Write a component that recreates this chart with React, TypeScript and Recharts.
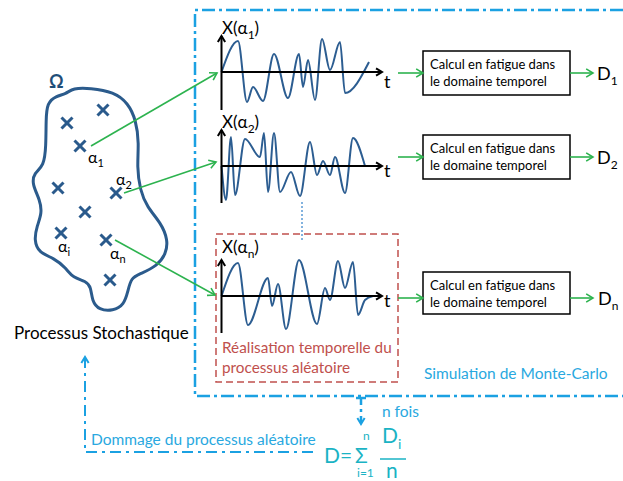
import React from 'react';
import { ComposedChart, Line, Scatter, XAxis, YAxis, ReferenceArea } from 'recharts';

type Pt = { x: number; y: number };
type Txt = Pt & { t: string; sub?: string; tail?: string };

// Ω domain outline (closed)
const omegaOutline: Pt[] = [
  { x: 73, y: 88 }, { x: 90, y: 88 }, { x: 114, y: 92 }, { x: 128, y: 103 },
  { x: 136, y: 120 }, { x: 139, y: 143 }, { x: 137, y: 167 }, { x: 140, y: 190 },
  { x: 147, y: 207 }, { x: 161, y: 223 }, { x: 168, y: 240 }, { x: 166, y: 254 },
  { x: 157, y: 266 }, { x: 140, y: 274 }, { x: 131, y: 278 }, { x: 128, y: 291 },
  { x: 124, y: 305 }, { x: 113, y: 311 }, { x: 99, y: 310 }, { x: 92, y: 301 },
  { x: 91, y: 287 }, { x: 86, y: 281 }, { x: 73, y: 278 }, { x: 66, y: 268 },
  { x: 54, y: 258 }, { x: 39, y: 253 }, { x: 34, y: 240 }, { x: 37, y: 226 },
  { x: 42, y: 213 }, { x: 40, y: 200 }, { x: 32, y: 184 }, { x: 34, y: 173 },
  { x: 44, y: 166 }, { x: 46, y: 146 }, { x: 46, y: 120 }, { x: 47, y: 103 },
  { x: 56, y: 96 }, { x: 66, y: 94 },
];

// random samples α inside Ω
const samples: Pt[] = [
  { x: 103, y: 110 }, { x: 67, y: 123 }, { x: 80, y: 146 }, { x: 58, y: 188 },
  { x: 116, y: 193 }, { x: 85, y: 212 }, { x: 61, y: 233 }, { x: 106, y: 240 },
  { x: 110, y: 280 },
];

const alphaLabels: Txt[] = [
  { x: 88, y: 163, t: 'α', sub: '1' },
  { x: 116, y: 185, t: 'α', sub: '2' },
  { x: 58, y: 252, t: 'α', sub: 'i' },
  { x: 110, y: 259, t: 'α', sub: 'n' },
];

// time realisations X(α)
const wave1: Pt[] = [
  { x: 221.5, y: 72 }, { x: 238, y: 41 }, { x: 247, y: 102 }, { x: 253, y: 87 },
  { x: 263, y: 101 }, { x: 274, y: 54 }, { x: 288, y: 98 }, { x: 299, y: 54 },
  { x: 303, y: 87 }, { x: 308, y: 60 }, { x: 315, y: 100 }, { x: 322, y: 39 },
  { x: 330, y: 70 }, { x: 340, y: 42 }, { x: 345, y: 93 }, { x: 369, y: 62 },
];
const wave2: Pt[] = [
  { x: 221.5, y: 166 }, { x: 226, y: 200 }, { x: 231, y: 137 }, { x: 235, y: 195 },
  { x: 245, y: 139 }, { x: 260, y: 157 }, { x: 264, y: 133 }, { x: 268, y: 192 },
  { x: 274, y: 133 }, { x: 280, y: 192 }, { x: 291, y: 172 }, { x: 300, y: 196 },
  { x: 310, y: 142 }, { x: 317, y: 175 }, { x: 323, y: 161 }, { x: 330, y: 175 },
  { x: 335, y: 157 }, { x: 345, y: 193 }, { x: 353, y: 138 }, { x: 365, y: 166 },
];
const waveN: Pt[] = [
  { x: 221.5, y: 296 }, { x: 238, y: 263 }, { x: 248, y: 325 }, { x: 268, y: 278 },
  { x: 272, y: 306 }, { x: 278, y: 284 }, { x: 286, y: 329 }, { x: 299, y: 260 },
  { x: 317, y: 324 }, { x: 325, y: 288 }, { x: 330, y: 300 }, { x: 338, y: 261 },
  { x: 345, y: 288 }, { x: 353, y: 262 }, { x: 358, y: 315 }, { x: 365, y: 300 },
  { x: 373, y: 296 },
];

// small time axes for each realisation
const axisLines: Pt[][] = [
  [{ x: 221.5, y: 110 }, { x: 221.5, y: 36 }],
  [{ x: 221.5, y: 72 }, { x: 382, y: 72 }],
  [{ x: 221.5, y: 203 }, { x: 221.5, y: 130 }],
  [{ x: 221.5, y: 166 }, { x: 382, y: 166 }],
  [{ x: 221.5, y: 333 }, { x: 221.5, y: 260 }],
  [{ x: 221.5, y: 296 }, { x: 382, y: 296 }],
];

const plotLabels: Txt[] = [
  { x: 222, y: 34, t: 'X(α', sub: '1', tail: ')' },
  { x: 222, y: 128, t: 'X(α', sub: '2', tail: ')' },
  { x: 222, y: 253, t: 'X(α', sub: 'n', tail: ')' },
];
const timeLabels: Txt[] = [
  { x: 384, y: 88, t: 't' }, { x: 384, y: 177, t: 't' }, { x: 384, y: 307, t: 't' },
];

// green arrows: samples -> realisations, realisations -> fatigue -> D
const greenLines: Pt[][] = [
  [{ x: 91, y: 146 }, { x: 217, y: 73 }],
  [{ x: 124, y: 193 }, { x: 216, y: 162 }],
  [{ x: 115, y: 240 }, { x: 215, y: 295 }],
  [{ x: 398, y: 73 }, { x: 423, y: 73 }],
  [{ x: 398, y: 157 }, { x: 423, y: 157 }],
  [{ x: 398, y: 298 }, { x: 423, y: 298 }],
  [{ x: 570, y: 73 }, { x: 593, y: 73 }],
  [{ x: 570, y: 157 }, { x: 593, y: 157 }],
  [{ x: 570, y: 298 }, { x: 593, y: 298 }],
];

// fatigue boxes (top, bottom)
const boxTops = [51, 135, 272];
const boxBottoms = [95, 179, 314];
const boxLeft = 423;
const boxRight = 570;
const boxLines = ['Calcul en fatigue dans', 'le domaine temporel'];
const boxTexts: Txt[] = boxTops.flatMap((top) => [
  { x: 430, y: top + 18, t: boxLines[0] },
  { x: 430, y: top + 35, t: boxLines[1] },
]);
const damageLabels: Txt[] = [
  { x: 597, y: 80, t: 'D', sub: '1' },
  { x: 597, y: 164, t: 'D', sub: '2' },
  { x: 598, y: 305, t: 'D', sub: 'n' },
];

// Monte-Carlo frame + loops
const mcFrame: Pt[] = [
  { x: 623, y: 10 }, { x: 195, y: 10 }, { x: 195, y: 396 }, { x: 623, y: 396 },
];
const nTimesLine: Pt[] = [{ x: 361, y: 398 }, { x: 361, y: 424 }];
const nTimesBar: Pt[] = [{ x: 356, y: 398 }, { x: 366, y: 398 }];
const feedbackLine: Pt[] = [{ x: 313, y: 452 }, { x: 85, y: 452 }, { x: 85, y: 357 }];
const separatorDots: Pt[] = [{ x: 302, y: 202 }, { x: 302, y: 242 }];
const fractionBar: Pt[] = [{ x: 380, y: 459 }, { x: 406, y: 459 }];

const redBox = { x1: 216, x2: 398, y1: 234, y2: 382 };
const redTexts: Txt[] = [
  { x: 222, y: 353, t: 'Réalisation temporelle du' },
  { x: 222, y: 373, t: 'processus aléatoire' },
];
const blackTexts: Txt[] = [{ x: 14, y: 339, t: 'Processus Stochastique' }];
const omegaLabel: Txt[] = [{ x: 49, y: 88, t: 'Ω' }];
const cyanTexts: Txt[] = [
  { x: 424, y: 379, t: 'Simulation  de Monte-Carlo' },
  { x: 382, y: 417, t: 'n fois' },
  { x: 91, y: 445, t: 'Dommage du processus aléatoire' },
];
const formulaBig: Txt[] = [
  { x: 324, y: 463, t: 'D=' },
  { x: 355, y: 463, t: 'Σ' },
  { x: 382, y: 443, t: 'D', sub: 'i' },
  { x: 386, y: 478, t: 'n' },
];
const formulaSmall: Txt[] = [
  { x: 363, y: 440, t: 'n' },
  { x: 357, y: 477, t: 'i=1' },
];

const FONT = 'Lato, "Open Sans", sans-serif';
const CYAN = '#1ba1e2';
const GREEN = '#2db34f';
const WAVE = '#2c5d91';
const RED = '#c0504d';
const TEAL = '#1ab3c4';

const tip = (line: Pt[]) => {
  const a = line[line.length - 2];
  const b = line[line.length - 1];
  return { x: b.x, y: b.y, ang: Math.atan2(b.y - a.y, b.x - a.x) };
};

const chevron = (color: string, len: number, sw: number) => (p: any) => {
  const { cx, cy, payload } = p;
  const a = payload.ang;
  const end = (d: number) => `${cx - len * Math.cos(a + d)},${cy - len * Math.sin(a + d)}`;
  return (
    <polyline points={`${end(0.55)} ${cx},${cy} ${end(-0.55)}`} fill="none" stroke={color} strokeWidth={sw} />
  );
};

const cross = (p: any) => {
  const { cx, cy } = p;
  const s = 5.5;
  return (
    <g stroke="#2a5a8c" strokeWidth={3}>
      <line x1={cx - s} y1={cy - s} x2={cx + s} y2={cy + s} />
      <line x1={cx - s} y1={cy + s} x2={cx + s} y2={cy - s} />
    </g>
  );
};

const label = (size: number, color: string, weight = 400) => (p: any) => {
  const d = p.payload as Txt;
  const subSize = Math.round(size * 0.68);
  return (
    <text x={p.cx} y={p.cy} fontSize={size} fill={color} fontWeight={weight} fontFamily={FONT}>
      {d.t}
      {d.sub && <tspan dy={size * 0.28} fontSize={subSize}>{d.sub}</tspan>}
      {d.tail && <tspan dy={-size * 0.28}>{d.tail}</tspan>}
    </text>
  );
};

const seg = (data: Pt[], key: string, color: string, sw: number, dash?: string, type: any = 'linear') => (
  <Line
    key={key}
    data={data}
    dataKey="y"
    type={type}
    stroke={color}
    strokeWidth={sw}
    strokeDasharray={dash}
    dot={false}
    activeDot={false}
    isAnimationActive={false}
  />
);

export default function App() {
  return (
    <div style={{ position: 'absolute', left: 0, top: 0, background: '#fff' }}>
      <ComposedChart width={623} height={481} margin={{ top: 0, right: 0, bottom: 0, left: 0 }}>
        <XAxis type="number" dataKey="x" domain={[0, 623]} allowDataOverflow hide />
        <YAxis type="number" dataKey="y" domain={[0, 481]} reversed allowDataOverflow hide />

        {seg(mcFrame, 'frame', CYAN, 2.5, '13 4 3 4')}
        {seg(nTimesLine, 'ntimes', CYAN, 2.5, '7 4 3 4')}
        {seg(nTimesBar, 'nbar', CYAN, 2.5)}
        {seg(feedbackLine, 'feedback', CYAN, 2, '11 5 3 5')}
        {seg(separatorDots, 'sep', '#5b9bd5', 1.5, '2 2')}

        <ReferenceArea {...redBox} fill="none" stroke={RED} strokeWidth={1.5} strokeDasharray="7 4" ifOverflow="visible" />
        {boxTops.map((t, i) => (
          <ReferenceArea key={'box' + i} x1={boxLeft} x2={boxRight} y1={t} y2={boxBottoms[i]} fill="#fff" fillOpacity={1} stroke="#000" strokeWidth={1.5} ifOverflow="visible" />
        ))}

        {seg(omegaOutline, 'omega', '#2b5b8c', 3, undefined, 'basisClosed')}
        {seg(wave1, 'w1', WAVE, 2, undefined, 'monotone')}
        {seg(wave2, 'w2', WAVE, 2, undefined, 'monotone')}
        {seg(waveN, 'wn', WAVE, 2, undefined, 'monotone')}
        {axisLines.map((l, i) => seg(l, 'ax' + i, '#000', 2))}
        {greenLines.map((l, i) => seg(l, 'g' + i, GREEN, 1.6))}
        {seg(fractionBar, 'frac', TEAL, 1.5)}

        <Scatter data={axisLines.map(tip)} shape={chevron('#000', 7, 2)} isAnimationActive={false} />
        <Scatter data={greenLines.map(tip)} shape={chevron(GREEN, 8, 1.6)} isAnimationActive={false} />
        <Scatter data={[tip(feedbackLine), tip(nTimesLine)]} shape={chevron(CYAN, 7, 2)} isAnimationActive={false} />
        <Scatter data={samples} shape={cross} isAnimationActive={false} />

        <Scatter data={omegaLabel} shape={label(18, '#1f4e79', 700)} isAnimationActive={false} />
        <Scatter data={alphaLabels} shape={label(16, '#000')} isAnimationActive={false} />
        <Scatter data={plotLabels} shape={label(17, '#000')} isAnimationActive={false} />
        <Scatter data={timeLabels} shape={label(18, '#000')} isAnimationActive={false} />
        <Scatter data={boxTexts} shape={label(13, '#000')} isAnimationActive={false} />
        <Scatter data={damageLabels} shape={label(18, '#000')} isAnimationActive={false} />
        <Scatter data={redTexts} shape={label(15.3, RED)} isAnimationActive={false} />
        <Scatter data={blackTexts} shape={label(17, '#000')} isAnimationActive={false} />
        <Scatter data={cyanTexts.slice(0, 1)} shape={label(15.5, '#29a8e0')} isAnimationActive={false} />
        <Scatter data={cyanTexts.slice(1)} shape={label(15.5, '#29a8e0')} isAnimationActive={false} />
        <Scatter data={formulaBig} shape={label(21, TEAL)} isAnimationActive={false} />
        <Scatter data={formulaSmall} shape={label(12, TEAL)} isAnimationActive={false} />
      </ComposedChart>
    </div>
  );
}
